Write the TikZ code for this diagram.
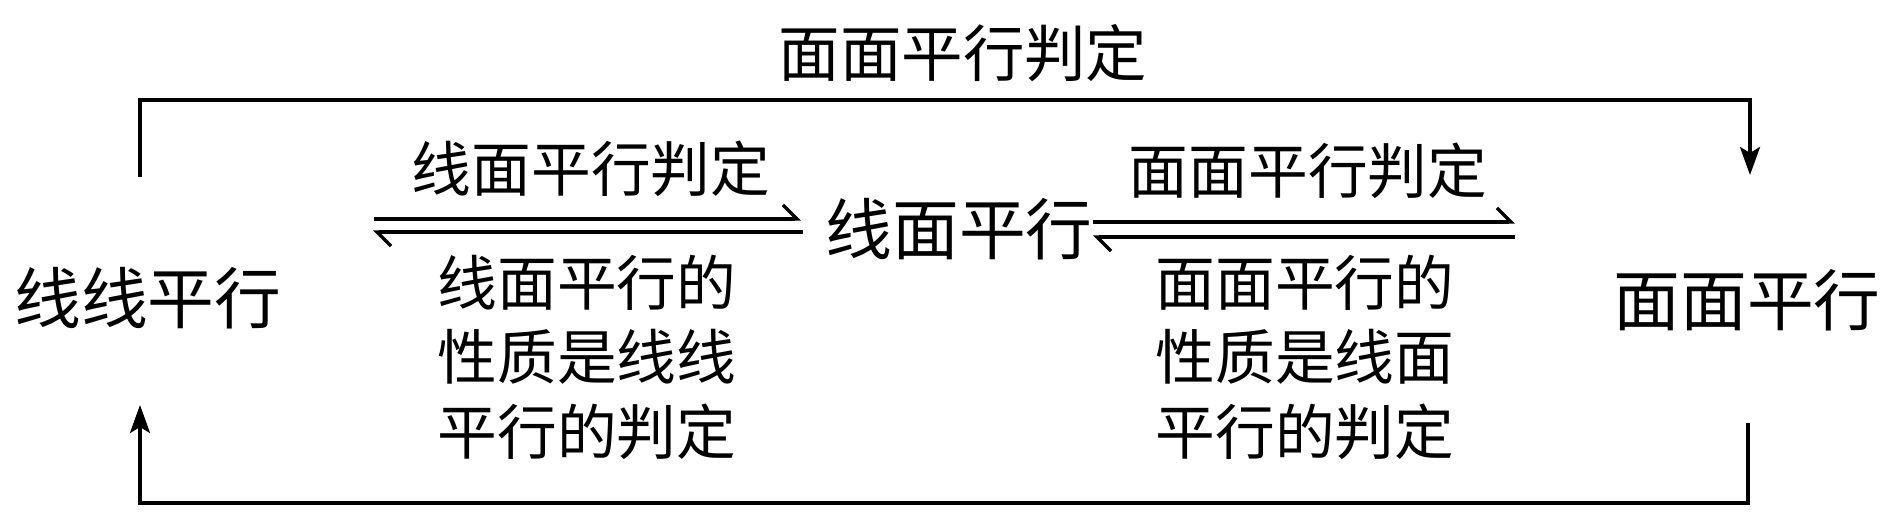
\documentclass[tikz,border=0pt]{standalone}
\usepackage{fontspec}
\newfontfamily\cjk{Noto Sans CJK SC}
\usetikzlibrary{arrows.meta}
\begin{document}
\begin{tikzpicture}[x=0.02cm, y=-0.02cm, line width=1.9pt,
        big/.style={font=\cjk\fontsize{38}{46}\selectfont, inner sep=0pt},
        small/.style={font=\cjk\fontsize{34}{42.4}\selectfont, inner sep=0pt, align=center},
        loopto/.style={-{Stealth[length=0.56cm, width=0.4cm, inset=0.12cm]}},
        harp/.style={-{Straight Barb[harpoon, length=0.28cm, width=0.56cm]}}]
        \useasboundingbox (0,0) rectangle (1890,527);
        \node[big] (llpx) at (148,298) {线线平行};
        \node[big] (xmpx) at (959,229) {线面平行};
        \node[big] (mmpx) at (1747,300) {面面平行};
        \node[small, font=\cjk\fontsize{35}{42}\selectfont] (mmpd) at (963,53) {面面平行判定};
        \node[small] (xmpd) at (591,169) {线面平行判定};
        \node[small] (mmpd2) at (1308,171) {面面平行判定};
        \node[small] (xmxz) at (587,357) {线面平行的\\性质是线线\\平行的判定};
        \node[small] (mmxz) at (1305,357) {面面平行的\\性质是线面\\平行的判定};
        % harpoons
        \coordinate (a1) at (374,219); \coordinate (a2) at (801,219);
        \coordinate (b1) at (803,232); \coordinate (b2) at (373,232);
        \coordinate (c1) at (1093,222); \coordinate (c2) at (1515,222);
        \coordinate (d1) at (1515,237); \coordinate (d2) at (1093,237);
        \draw[harp] (a1) -- (a2);
        \draw[harp] (b1) -- (b2);
        \draw[harp] (c1) -- (c2);
        \draw[harp] (d1) -- (d2);
        % outer loops
        \coordinate (p1) at (140,177); \coordinate (tr) at (1750,100); \coordinate (p2) at (1750,175);
        \coordinate (q1) at (1748,423); \coordinate (bl) at (140,503); \coordinate (q2) at (140,405);
        \draw[loopto] (p1) |- (tr) -- (p2);
        \draw[loopto] (q1) |- (bl) -- (q2);
    \end{tikzpicture}
\end{document}
